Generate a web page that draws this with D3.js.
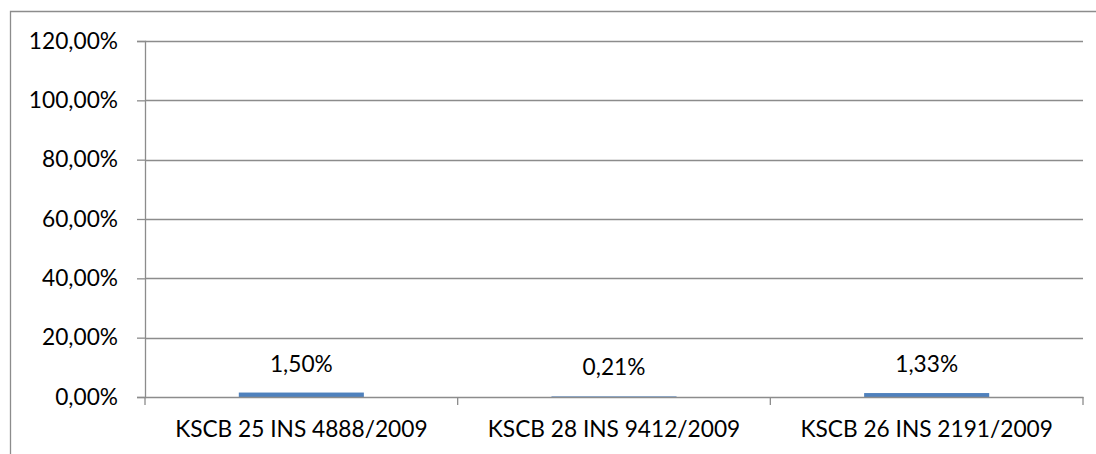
<!DOCTYPE html>
<html>
<head>
<meta charset="utf-8">
<script src="https://cdn.jsdelivr.net/npm/d3@7"></script>
<style>
  body { margin: 0; background: #fff; }
  text { font-family: Lato, "Open Sans", sans-serif; fill: #000; }
</style>
</head>
<body>
<svg id="svg1"></svg>
<script>
var categories = ["KSCB 25 INS 4888/2009", "KSCB 28 INS 9412/2009", "KSCB 26 INS 2191/2009"];
var values = [0.0150, 0.0021, 0.0133];
var yTicks = [0, 0.2, 0.4, 0.6, 0.8, 1.0, 1.2];

var margin = {top: 41, right: 13, bottom: 57, left: 145};
var fullW = 1096, fullH = 454;
var width = fullW - margin.left - margin.right,
    height = fullH - margin.top - margin.bottom;
var fs = '22.7px';

var locale = d3.formatLocale({decimal: ",", thousands: ".", grouping: [3], currency: ["", ""]});
var pct = locale.format(".2%");

var root = d3.select('#svg1')
  .attr('width', fullW)
  .attr('height', fullH);

// chart frame (cropped at right and bottom)
root.append('path')
  .attr('d', 'M10.5,' + fullH + 'V11.5H' + fullW)
  .attr('fill', 'none')
  .attr('stroke', '#8c8c8c')
  .attr('stroke-width', 1.3);

var svg = root.append('g')
  .attr('transform', 'translate(' + margin.left + ',' + margin.top + ')');

var x = d3.scaleBand()
  .domain(categories)
  .range([0, width])
  .padding(0);

var y = d3.scaleLinear()
  .domain([0, 1.2])
  .range([height, 0]);

// gridlines
svg.selectAll('.grid')
  .data(yTicks.slice(1))
  .enter()
  .append('line')
  .attr('class', 'grid')
  .attr('x1', 0)
  .attr('x2', width)
  .attr('y1', function(d) { return Math.round(y(d)) + 0.5; })
  .attr('y2', function(d) { return Math.round(y(d)) + 0.5; })
  .attr('stroke', '#8c8c8c')
  .attr('stroke-width', 1.3);

// bars
var bw = x.bandwidth() * 0.4;
svg.selectAll('.bar')
  .data(values)
  .enter()
  .append('rect')
  .attr('class', 'bar')
  .attr('x', function(d, i) { return x(categories[i]) + (x.bandwidth() - bw) / 2; })
  .attr('y', function(d) { return y(d); })
  .attr('width', bw)
  .attr('height', function(d) { return height - y(d); })
  .attr('fill', '#4f81bd');

// data labels
svg.selectAll('.lbl')
  .data(values)
  .enter()
  .append('text')
  .attr('class', 'lbl')
  .attr('x', function(d, i) { return x(categories[i]) + x.bandwidth() / 2; })
  .attr('y', function(d) { return y(d) - 21; })
  .attr('text-anchor', 'middle')
  .style('font-size', fs)
  .text(function(d) { return pct(d); });

// y axis
var yAxis = svg.append('g')
  .call(d3.axisLeft(y).tickValues(yTicks).tickFormat(pct).tickSize(8).tickPadding(19));
yAxis.select('.domain').attr('stroke', '#8c8c8c').attr('stroke-width', 1.3);
yAxis.selectAll('.tick line').attr('stroke', '#8c8c8c').attr('stroke-width', 1.3);
yAxis.selectAll('.tick text').style('font-size', fs);

// x axis
var xAxis = svg.append('g')
  .attr('transform', 'translate(0,' + height + ')')
  .call(d3.axisBottom(x).tickSize(0).tickPadding(24));
xAxis.select('.domain').attr('stroke', '#8c8c8c').attr('stroke-width', 1.3);
xAxis.selectAll('.tick text').style('font-size', fs);

// category separators
svg.selectAll('.sep')
  .data(categories.concat(['end']))
  .enter()
  .append('line')
  .attr('class', 'sep')
  .attr('x1', function(d, i) { return i * x.step(); })
  .attr('x2', function(d, i) { return i * x.step(); })
  .attr('y1', height)
  .attr('y2', height + 8)
  .attr('stroke', '#8c8c8c')
  .attr('stroke-width', 1.3);
</script>
</body>
</html>
